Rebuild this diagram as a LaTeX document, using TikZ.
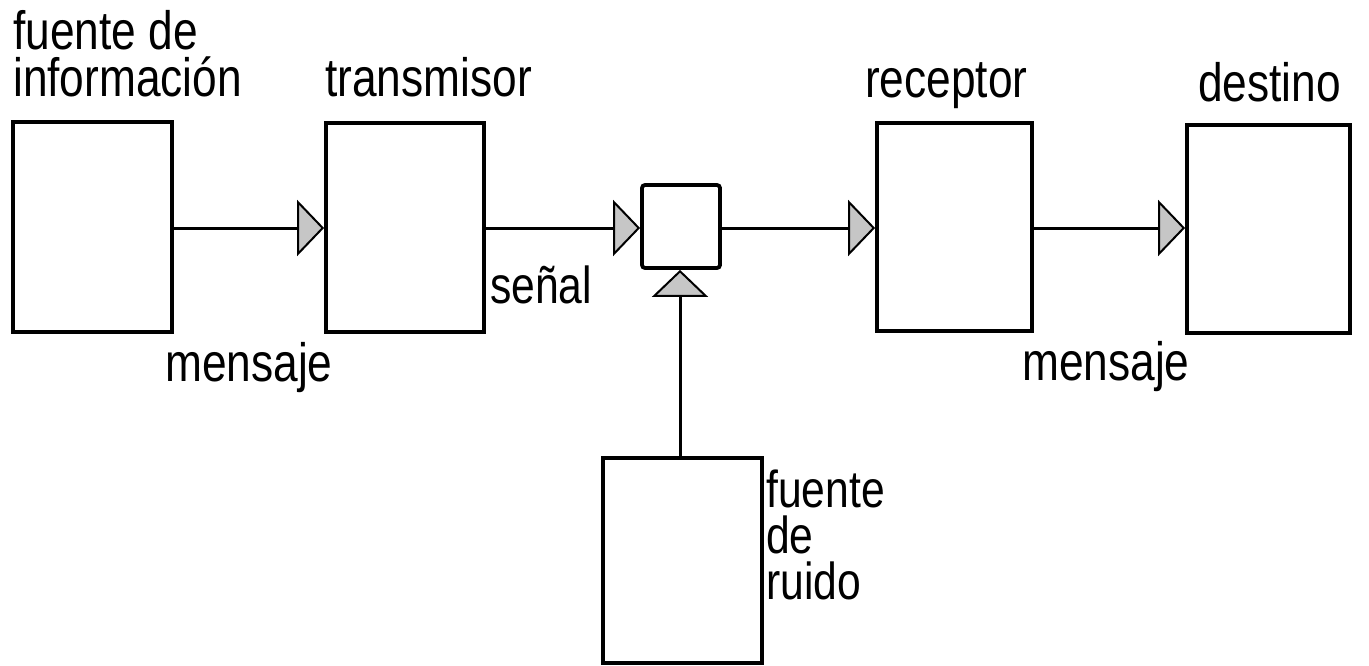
\documentclass[tikz,border=0pt]{standalone}
\usepackage{fontspec}
\setmainfont{Liberation Sans}[FakeStretch=0.82]
\usetikzlibrary{arrows.meta}
\newcommand{\stacklines}[2][47pt]{\vtop{\baselineskip=#1\lineskiplimit=-\maxdimen\lineskip=0pt #2}}
\begin{document}
\begin{tikzpicture}[x=1pt,y=-1pt,
  blk/.style={draw=black, line width=3.8pt, inner sep=0pt, rectangle},
  lbl/.style={anchor=base west, inner sep=0pt, font=\fontsize{54}{47}\selectfont},
  slbl/.style={lbl, font=\fontsize{52}{46}\selectfont},
  arr/.style={line width=3pt, -{Triangle[length=27pt,width=56pt,fill=gray!45,line width=2pt]}}]
\useasboundingbox (0,0) rectangle (1369,666);
% boxes
\node[blk, minimum width=159pt, minimum height=210pt] (src) at (92.5,227) {};
\node[blk, minimum width=158pt, minimum height=209pt] (tx) at (405,227.5) {};
\node[blk, minimum width=78pt, minimum height=83pt, rounded corners=3pt] (ch) at (681,226.5) {};
\node[blk, minimum width=155pt, minimum height=208pt] (rx) at (954.5,227) {};
\node[blk, minimum width=163pt, minimum height=208pt] (dst) at (1268.5,229) {};
\node[blk, minimum width=159pt, minimum height=205pt] (noise) at (682.5,560.5) {};
% labels
\node[lbl] (l1) at (13,50) {\stacklines{\hbox{fuente de}\hbox{información}}};
\node[lbl] (l2) at (325,97) {transmisor};
\node[lbl] (l3) at (865,98) {receptor};
\node[lbl] (l4) at (1198,102) {destino};
\node[lbl] (m1) at (165,381) {mensaje};
\node[lbl] (m2) at (1022,380) {mensaje};
\node[slbl] (sg) at (490,303) {señal};
\node[slbl] (n1) at (766,507) {\stacklines[46pt]{\hbox{fuente}\hbox{de}\hbox{ruido}}};
% connectors
\draw[arr] (src.east |- 0,228) -- (tx.west |- 0,228);
\draw[arr] (tx.east |- 0,228) -- (ch.west |- 0,228);
\draw[arr] (ch.east |- 0,228) -- (rx.west |- 0,228);
\draw[arr] (rx.east |- 0,228) -- (dst.west |- 0,228);
\draw[arr] (noise.north -| 680,0) -- (ch.south -| 680,0);
\end{tikzpicture}
\end{document}
